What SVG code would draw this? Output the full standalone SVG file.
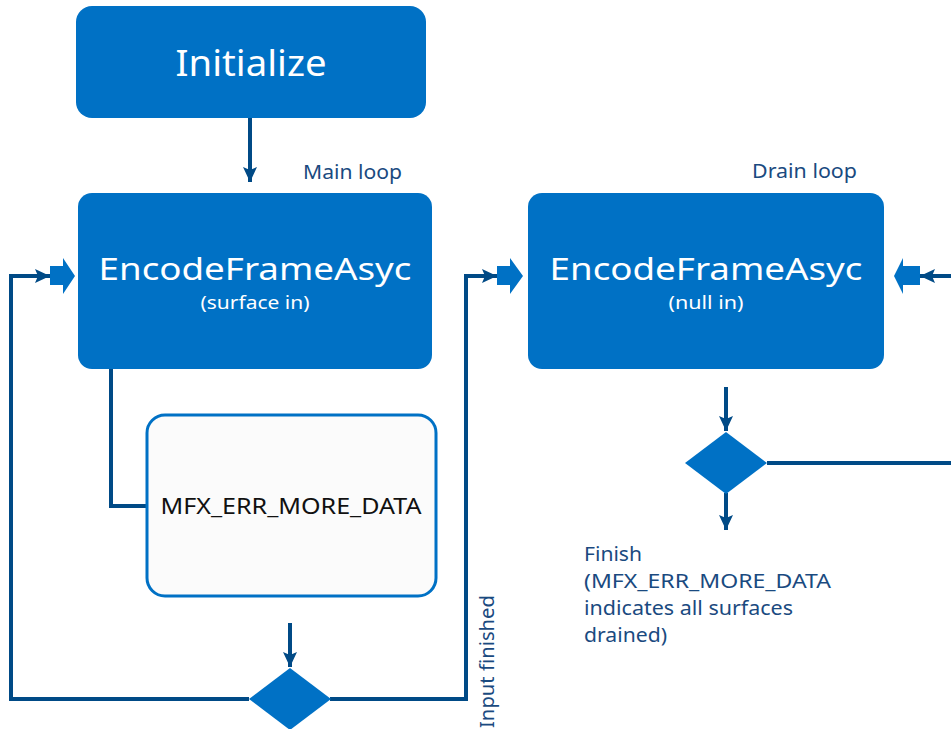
<svg xmlns="http://www.w3.org/2000/svg" width="951" height="729" viewBox="0 0 951 729">
<style>
.box{fill:#0071C5}
.big{font-family:"Noto Sans","Liberation Sans",sans-serif;fill:#fff;text-anchor:middle}
.lbl{font-family:"Noto Sans","Liberation Sans",sans-serif;fill:#1A4A80;font-size:20px}
.conn{fill:none;stroke:#004A86;stroke-width:4}
.blk{fill:#0071C5}
</style>
<defs>
<marker id="ah" markerUnits="userSpaceOnUse" markerWidth="16" markerHeight="16" viewBox="0 0 16 16" refX="15" refY="8" orient="auto">
<path d="M0,1 L15,8 L0,15 L3,8 Z" fill="#004A86"/>
</marker>
</defs>
<g id="connectors">
<path class="conn" d="M250,118 V182" marker-end="url(#ah)"/>
<path class="conn" d="M111,369 V506 H147"/>
<path class="conn" d="M290,623 V667" marker-end="url(#ah)"/>
<path class="conn" d="M249,699 H11 V276 H50" marker-end="url(#ah)"/>
<path class="conn" d="M330,699 H466 V276 H497" marker-end="url(#ah)"/>
<path class="conn" d="M726,387 V431" marker-end="url(#ah)"/>
<path class="conn" d="M726,493 V530" marker-end="url(#ah)"/>
<path class="conn" d="M767,463 H951"/>
<path class="conn" d="M951,276 H920" marker-end="url(#ah)"/>
</g>
<g id="initialize">
<rect class="box" x="76" y="6" width="350" height="112" rx="16"/>
<text class="big" x="251" y="76" font-size="37" textLength="151" lengthAdjust="spacingAndGlyphs">Initialize</text>
</g>
<g id="main-loop-label"><text class="lbl" x="303" y="179" textLength="99" lengthAdjust="spacingAndGlyphs">Main loop</text></g>
<g id="encode-surface">
<rect class="box" x="78" y="193" width="354" height="176" rx="14"/>
<text class="big" x="255" y="280" font-size="31" textLength="313" lengthAdjust="spacingAndGlyphs">EncodeFrameAsyc</text>
<text class="big" x="255" y="309" font-size="18" textLength="109" lengthAdjust="spacingAndGlyphs">(surface in)</text>
<path class="blk" d="M50,266 H63 V258 L75,276 L63,294 V285 H50 Z"/>
</g>
<g id="drain-loop-label"><text class="lbl" x="752" y="178" textLength="105" lengthAdjust="spacingAndGlyphs">Drain loop</text></g>
<g id="encode-null">
<rect class="box" x="528" y="193" width="356" height="176" rx="14"/>
<text class="big" x="706" y="280" font-size="31" textLength="313" lengthAdjust="spacingAndGlyphs">EncodeFrameAsyc</text>
<text class="big" x="706" y="309" font-size="18" textLength="75" lengthAdjust="spacingAndGlyphs">(null in)</text>
<path class="blk" d="M497,266 H510 V258 L523,276 L510,294 V285 H497 Z"/>
<path class="blk" d="M920,266 H903 V258 L894,276 L903,294 V285 H920 Z"/>
</g>
<g id="more-data">
<rect x="147" y="415" width="289" height="181" rx="18" fill="#FBFBFB" stroke="#0071C5" stroke-width="3"/>
<text x="291" y="514" font-family="Noto Sans, Liberation Sans, sans-serif" font-size="21" fill="#111" text-anchor="middle" textLength="261" lengthAdjust="spacingAndGlyphs">MFX_ERR_MORE_DATA</text>
</g>
<g id="decision-main">
<path class="blk" d="M290,668 L331,699 L290,730 L249,699 Z"/>
</g>
<g id="input-finished-label">
<text class="lbl" transform="translate(494,728) rotate(-90)" textLength="133" lengthAdjust="spacingAndGlyphs">Input finished</text>
</g>
<g id="decision-drain">
<path class="blk" d="M726,432 L767,463 L726,494 L685,463 Z"/>
</g>
<g id="finish-label">
<text class="lbl" x="584" y="561" textLength="58" lengthAdjust="spacingAndGlyphs">Finish</text>
<text class="lbl" x="584" y="588" textLength="247" lengthAdjust="spacingAndGlyphs">(MFX_ERR_MORE_DATA</text>
<text class="lbl" x="584" y="615" textLength="209" lengthAdjust="spacingAndGlyphs">indicates all surfaces</text>
<text class="lbl" x="584" y="642" textLength="83" lengthAdjust="spacingAndGlyphs">drained)</text>
</g>
</svg>
